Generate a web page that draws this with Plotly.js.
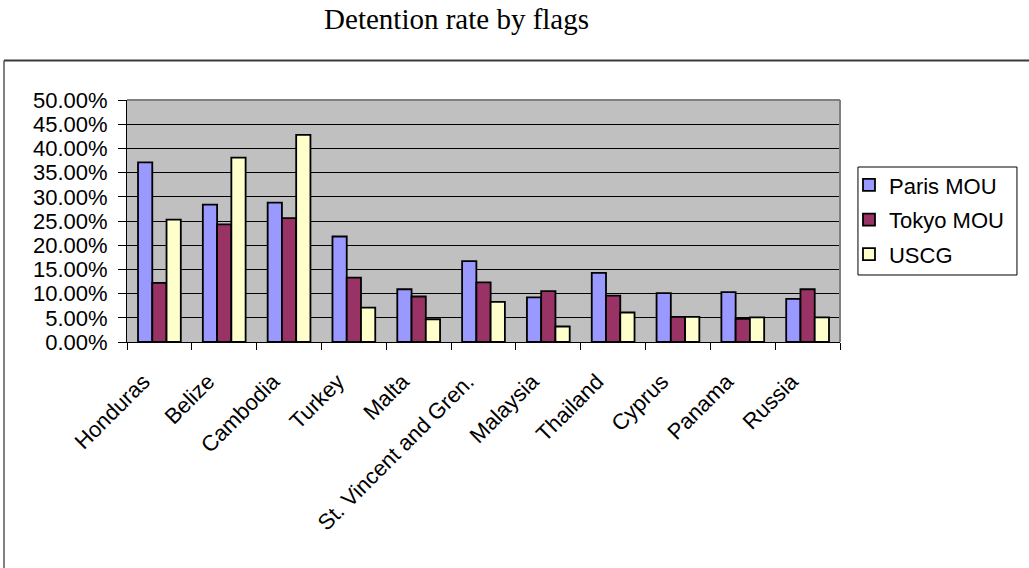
<!DOCTYPE html>
<html>
<head>
<meta charset="utf-8">
<script src="https://cdn.plot.ly/plotly-3.0.1.min.js"></script>
<style>
  html, body { margin: 0; padding: 0; background: #ffffff; }
  #chart { width: 1029px; height: 568px; }
</style>
</head>
<body>
<div id="chart"></div>
<script>
// Flag states shown along the category axis
const flags = ['Honduras', 'Belize', 'Cambodia', 'Turkey', 'Malta',
  'St. Vincent and Gren.', 'Malaysia', 'Thailand', 'Cyprus', 'Panama', 'Russia'];

// Detention rates (fraction of inspections) per port state control regime
const parisMou = [0.371, 0.284, 0.288, 0.218, 0.109, 0.167, 0.092, 0.143, 0.101, 0.103, 0.089];
const tokyoMou = [0.122, 0.243, 0.256, 0.133, 0.094, 0.123, 0.105, 0.096, 0.052, 0.048, 0.109];
const uscg     = [0.253, 0.381, 0.428, 0.071, 0.047, 0.083, 0.032, 0.061, 0.052, 0.051, 0.051];

const seriesNames = ['Paris MOU', 'Tokyo MOU', 'USCG'];
const seriesColors = ['#9999FF', '#993366', '#FFFFCC'];
const seriesValues = [parisMou, tokyoMou, uscg];

const sans = 'Arial, "Liberation Sans", sans-serif';
const serif = '"Times New Roman", "Liberation Serif", serif';

const traces = seriesValues.map((vals, i) => ({
  type: 'bar',
  name: seriesNames[i],
  x: flags,
  y: vals,
  legendgroup: 'g' + i,
  marker: { color: seriesColors[i], line: { color: '#000000', width: 1.8 } },
  hoverinfo: 'x+y+name'
}));

const layout = {
  width: 1029,
  height: 568,
  paper_bgcolor: '#ffffff',
  plot_bgcolor: '#C0C0C0',
  margin: { l: 127, r: 189, t: 100, b: 226, pad: 0 },
  barmode: 'group',
  bargap: 0.34,
  bargroupgap: 0,
  showlegend: true,
  title: {
    text: 'Detention rate by flags',
    font: { family: serif, size: 29, color: '#000000' },
    xref: 'container', x: 0.4437, xanchor: 'center',
    yref: 'container', y: 0.966, yanchor: 'middle'
  },
  xaxis: {
    type: 'category',
    tickson: 'boundaries',
    ticks: 'outside',
    ticklen: 7,
    tickwidth: 1,
    tickcolor: '#000000',
    showline: true,
    linecolor: '#000000',
    linewidth: 1,
    showgrid: false,
    tickangle: -45,
    ticklabelshift: -16,
    ticklabelstandoff: 17,
    tickfont: { family: sans, size: 22, color: '#000000' }
  },
  yaxis: {
    range: [0, 0.5],
    dtick: 0.05,
    tickformat: '.2%',
    ticks: 'outside',
    ticklen: 8,
    tickwidth: 1,
    tickcolor: '#000000',
    ticklabelstandoff: 6,
    showline: true,
    linecolor: '#000000',
    linewidth: 1,
    showgrid: true,
    gridcolor: '#000000',
    gridwidth: 1,
    zeroline: false,
    tickfont: { family: sans, size: 22, color: '#000000' }
  },
  legend: {
    x: 1.0126, xanchor: 'left',
    y: 0.735, yanchor: 'top',
    bgcolor: 'rgba(0,0,0,0)',
    borderwidth: 0,
    traceorder: 'grouped',
    tracegroupgap: 3,
    font: { family: sans, size: 22, color: '#000000' }
  },
  shapes: [
    // outer chart frame
    { type: 'rect', xref: 'paper', yref: 'paper', x0: -0.1725, x1: 1.4, y0: -1.2, y1: 1.1632,
      line: { color: '#000000', width: 1 }, fillcolor: 'rgba(0,0,0,0)', layer: 'above' },
    { type: 'line', xref: 'paper', yref: 'paper', x0: -0.1725, x1: 1.4, y0: 1.1632, y1: 1.1632,
      line: { color: '#3a3a3a', width: 2.2 }, layer: 'above' },
    // plot area border (top and right)
    { type: 'line', xref: 'paper', yref: 'paper', x0: 0, x1: 1, y0: 1, y1: 1,
      line: { color: '#808080', width: 2 }, layer: 'above' },
    { type: 'line', xref: 'paper', yref: 'paper', x0: 1, x1: 1, y0: 0, y1: 1,
      line: { color: '#808080', width: 2 }, layer: 'above' },
    // legend frame
    { type: 'rect', xref: 'paper', yref: 'paper', x0: 1.0252, x1: 1.2482, y0: 0.2769, y1: 0.7231,
      line: { color: '#000000', width: 1 }, fillcolor: 'rgba(0,0,0,0)', layer: 'above' }
  ]
};

Plotly.newPlot('chart', traces, layout, { displayModeBar: false, responsive: false });
</script>
</body>
</html>
